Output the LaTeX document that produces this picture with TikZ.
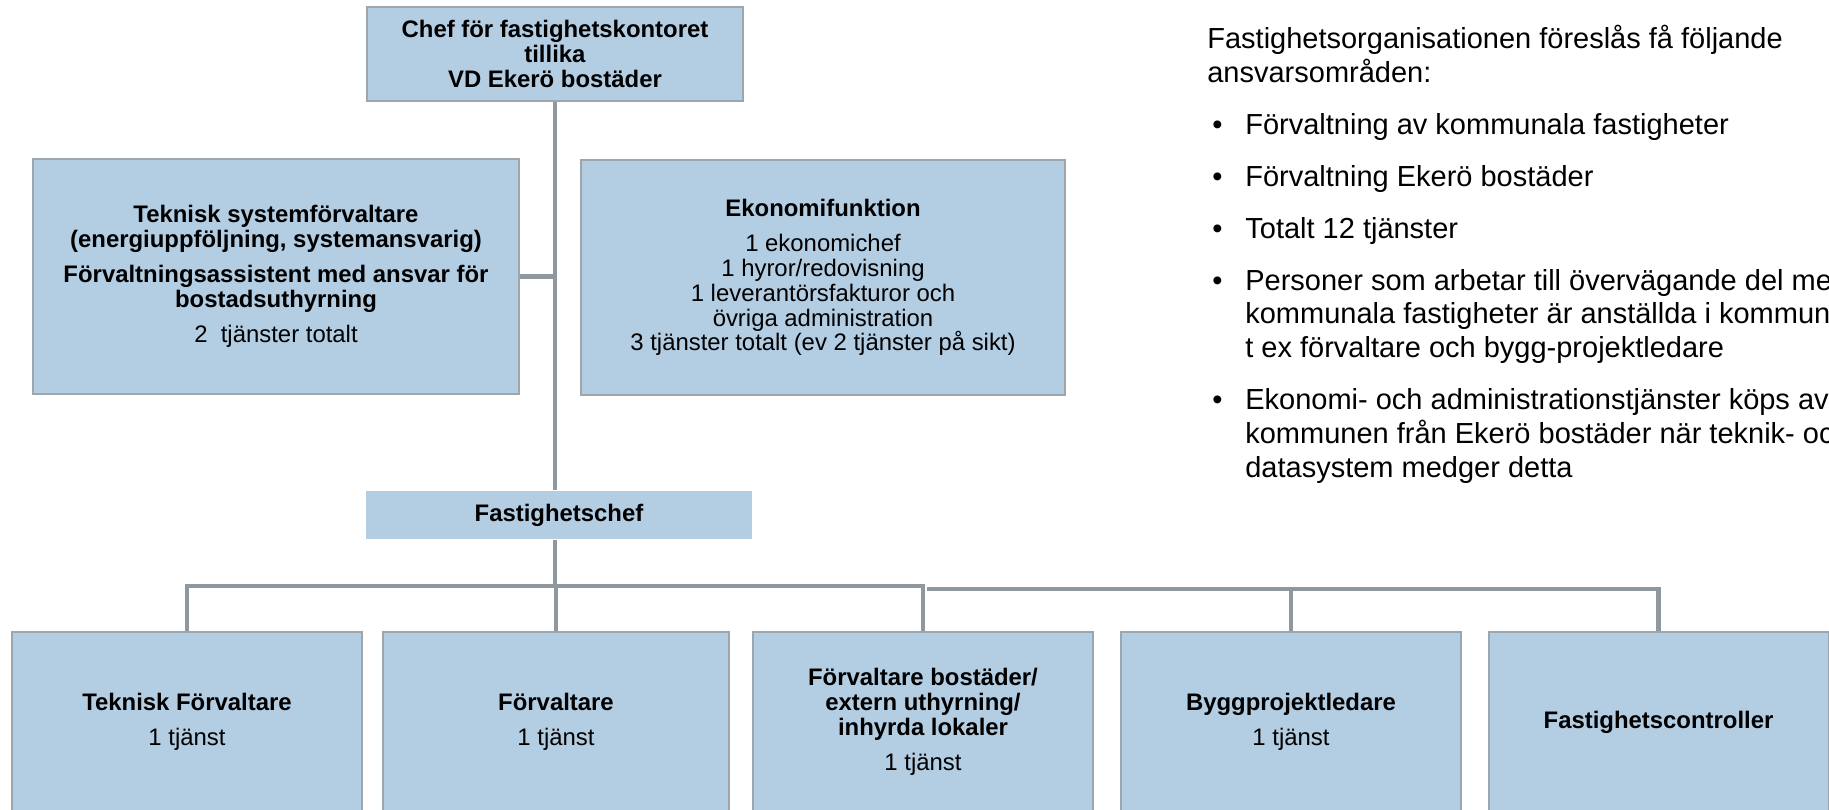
\documentclass[tikz,border=0pt]{standalone}
\usepackage{fontspec}
\setmainfont{Liberation Sans}
\usetikzlibrary{positioning, calc}
\definecolor{boxblue}{RGB}{179,205,227}
\definecolor{boxline}{RGB}{158,166,173}
\definecolor{linegray}{RGB}{143,152,158}
\newcommand{\punkt}{\makebox[0.76cm][l]{\hspace{0.1cm}\textbullet}}
\newcommand{\indrag}{\hspace*{0.76cm}}

\begin{document}
\begin{tikzpicture}[
    box/.style={draw=boxline, line width=0.6pt, fill=boxblue, align=center, inner sep=0pt, font=\fontsize{13.6}{14.2}\selectfont},
    botbox/.style={box, minimum height=3.60cm},
    conn/.style={draw=linegray, line width=2.8pt},
    ansvar/.style={align=left, inner sep=0pt, font=\fontsize{16.5}{19.3}\selectfont}
]
\useasboundingbox (0,0) rectangle (36.58,-16.2);

% ledning
\node[box, minimum width=7.52cm, minimum height=1.88cm] (chef) at (11.10,-1.08) {\textbf{Chef för fastighetskontoret}\\\textbf{tillika}\\\textbf{VD Ekerö bostäder}};
\node[box, minimum width=9.72cm, minimum height=4.70cm] (teknsys) at (5.52,-5.53) {\textbf{Teknisk systemförvaltare}\\\textbf{(energiuppföljning, systemansvarig)}\\[5.6pt]\textbf{Förvaltningsassistent med ansvar för}\\\textbf{bostadsuthyrning}\\[5.6pt]2\ \ tjänster totalt};
\node[box, minimum width=9.68cm, minimum height=4.70cm] (ekonomi) at (16.46,-5.55) {\textbf{Ekonomifunktion}\\[5.6pt]1 ekonomichef\\1 hyror/redovisning\\1 leverantörsfakturor och\\övriga administration\\3 tjänster totalt (ev 2 tjänster på sikt)};
\node[box, draw=none, minimum width=7.72cm, minimum height=0.96cm] (fchef) at (11.18,-10.30) {\textbf{Fastighetschef}};

% tjanster
\node[botbox, minimum width=7.00cm] (b1) at (3.74,-14.44) {\textbf{Teknisk Förvaltare}\\[5.6pt]1 tjänst};
\node[botbox, minimum width=6.92cm] (b2) at (11.12,-14.44) {\textbf{Förvaltare}\\[5.6pt]1 tjänst};
\node[botbox, minimum width=6.80cm] (b3) at (18.46,-14.44) {\textbf{Förvaltare bostäder/}\\\textbf{extern uthyrning/}\\\textbf{inhyrda lokaler}\\[5.6pt]1 tjänst};
\node[botbox, minimum width=6.80cm] (b4) at (25.82,-14.44) {\textbf{Byggprojektledare}\\[5.6pt]1 tjänst};
\node[botbox, minimum width=6.78cm] (b5) at (33.17,-14.44) {\textbf{Fastighetscontroller}};

% linjer
\coordinate (bus) at (11.10,-11.72);
\coordinate (bus2) at (18.54,-11.78);
\draw[conn] (chef.south) -- (chef.south |- fchef.north);
\draw[conn] (teknsys.east) -- (teknsys.east -| chef.south);
\draw[conn] (chef.south |- fchef.south) -- (bus) -| (b1.north);
\draw[conn] (bus) -| (b2.north);
\draw[conn] (bus) -| (b3.north);
\draw[conn] (bus2) -| (b4.north);
\draw[conn] (bus2) -| (b5.north);

% text till hoger
\node[ansvar, anchor=north west] (omr) at (24.14,-0.50) {Fastighetsorganisationen föreslås få följande\\
ansvarsområden:\\[10.2pt]
\punkt Förvaltning av kommunala fastigheter\\[10.2pt]
\punkt Förvaltning Ekerö bostäder\\[10.2pt]
\punkt Totalt 12 tjänster\\[10.2pt]
\punkt Personer som arbetar till övervägande del me\\
\indrag kommunala fastigheter är anställda i kommun\\
\indrag t ex förvaltare och bygg-projektledare\\[10.2pt]
\punkt Ekonomi- och administrationstjänster köps av\\
\indrag kommunen från Ekerö bostäder när teknik- oc\\
\indrag datasystem medger detta};
\end{tikzpicture}
\end{document}
